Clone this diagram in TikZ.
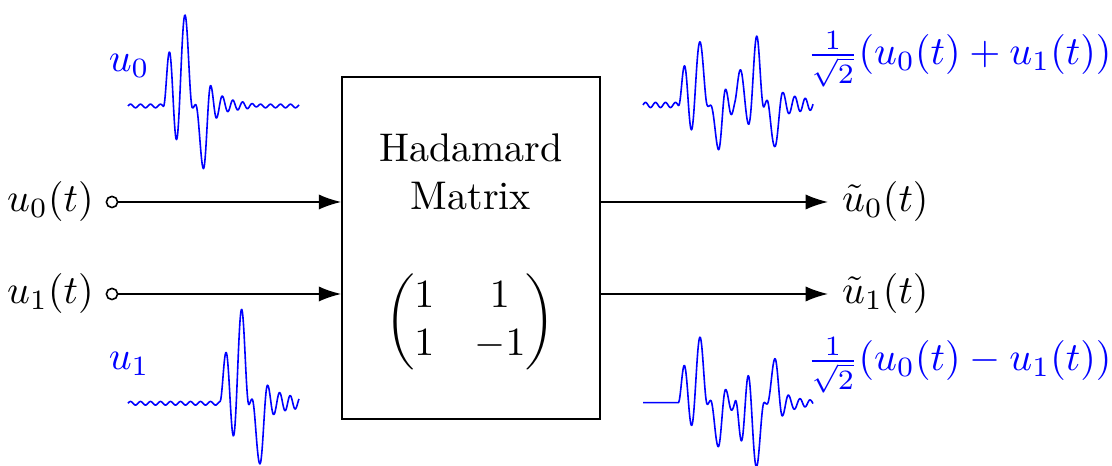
\documentclass[tikz,border=0pt]{standalone}
\usepackage{amsmath}
\usetikzlibrary{arrows.meta}
\tikzset{
  declare function={
    hs(\hT,\hA,\hB,\hP,\hQ)=(\hT>=\hA)*(\hT<\hB)*(\hP+(\hQ-\hP)*(1-cos(180*max(0,min(1,(\hT-\hA)/(\hB-\hA)))))/2);
    bb(\hT)=hs(\hT,0,6,0,52.7)+hs(\hT,6,13.3,52.7,-32.3)+hs(\hT,13.3,21.7,-32.3,92.7)
      +hs(\hT,21.7,29,92.7,-2.5)+hs(\hT,29,32.3,-2.5,3.3)+hs(\hT,32.3,40,3.3,-62.3)
      +hs(\hT,40,47.3,-62.3,18.7)+hs(\hT,47.3,53.3,18.7,-10.7)+hs(\hT,53.3,59.3,-10.7,9.3)
      +hs(\hT,59.3,65,9.3,-5.7)+hs(\hT,65,70,-5.7,6)+hs(\hT,70,75,6,-4)
      +hs(\hT,75,80,-4,4)+hs(\hT,80,85,4,-2.5)+hs(\hT,85,90,-2.5,2)+hs(\hT,90,95,2,0);
    rr(\hT)=1.8*sin(36*(\hT-128));
    ua(\hT)=rr(\hT)+bb(\hT-163.3);
    ub(\hT)=rr(\hT)+bb(\hT-220);
  },
  wave/.style={blue, line width=0.4pt, line join=round},
  arr/.style={line width=0.4pt, -{Latex[length=5.6pt,width=3.8pt]}},
  port/.style={circle, draw, fill=white, minimum size=2.8pt, inner sep=0pt, line width=0.4pt},
  hbox/.style={draw, line width=0.4pt, minimum width=64.5pt, minimum height=85.5pt, inner sep=0pt},
  blab/.style={blue, inner sep=0pt},
}
\begin{document}
\begin{tikzpicture}[x=0.25pt, y=-0.25pt]
\useasboundingbox (0,0) rectangle (1112,466);

% block
\node[hbox] (H) at (471,248) {};
\node[anchor=base, inner sep=0pt] (t1) at (471,162) {Hadamard};
\node[anchor=base, inner sep=0pt] (t2) at (471,210) {Matrix};
\node[inner sep=0pt] (M) at (470,322) {$\begin{pmatrix}1 & 1\\ 1 & -1\end{pmatrix}$};

% inputs
\node[port] (in0) at (112,202) {};
\node[port] (in1) at (112,294) {};
\node[anchor=east, inner sep=0pt, xshift=-2.8pt] (l0) at (in0.west) {$u_0(t)$};
\node[anchor=east, inner sep=0pt, xshift=-2.8pt] (l1) at (in1.west) {$u_1(t)$};
\draw[arr] (in0) -- (in0 -| H.west);
\draw[arr] (in1) -- (in1 -| H.west);

% outputs
\coordinate (o0) at (828,202);
\coordinate (o1) at (828,294);
\draw[arr] (o0 -| H.east) -- (o0);
\draw[arr] (o1 -| H.east) -- (o1);
\node[anchor=west] (r0) at (o0) {$\tilde u_0(t)$};
\node[anchor=west] (r1) at (o1) {$\tilde u_1(t)$};

% waveforms
\draw[wave] plot[domain=128:299, samples=300, smooth] (\x, {106-ua(\x)});
\draw[wave] plot[domain=128:299, samples=300, smooth] (\x, {403.3-ub(\x)});
\draw[wave] plot[domain=128:298, samples=300, smooth] (\x+515, {105-(ua(\x)+ub(\x))/1.41421});
\draw[wave] plot[domain=128:298, samples=300, smooth] (\x+515, {402.7-(ua(\x)-ub(\x))/1.41421});

% wave labels
\node[blab, anchor=base west] (w0) at (108,72) {$u_0$};
\node[blab, anchor=base west] (w1) at (108,370) {$u_1$};
\node[blab, anchor=base west] (w2) at (806,65) {$\frac{1}{\sqrt{2}}(u_0(t)+u_1(t))$};
\node[blab, anchor=base west] (w3) at (806,371) {$\frac{1}{\sqrt{2}}(u_0(t)-u_1(t))$};
\end{tikzpicture}
\end{document}
